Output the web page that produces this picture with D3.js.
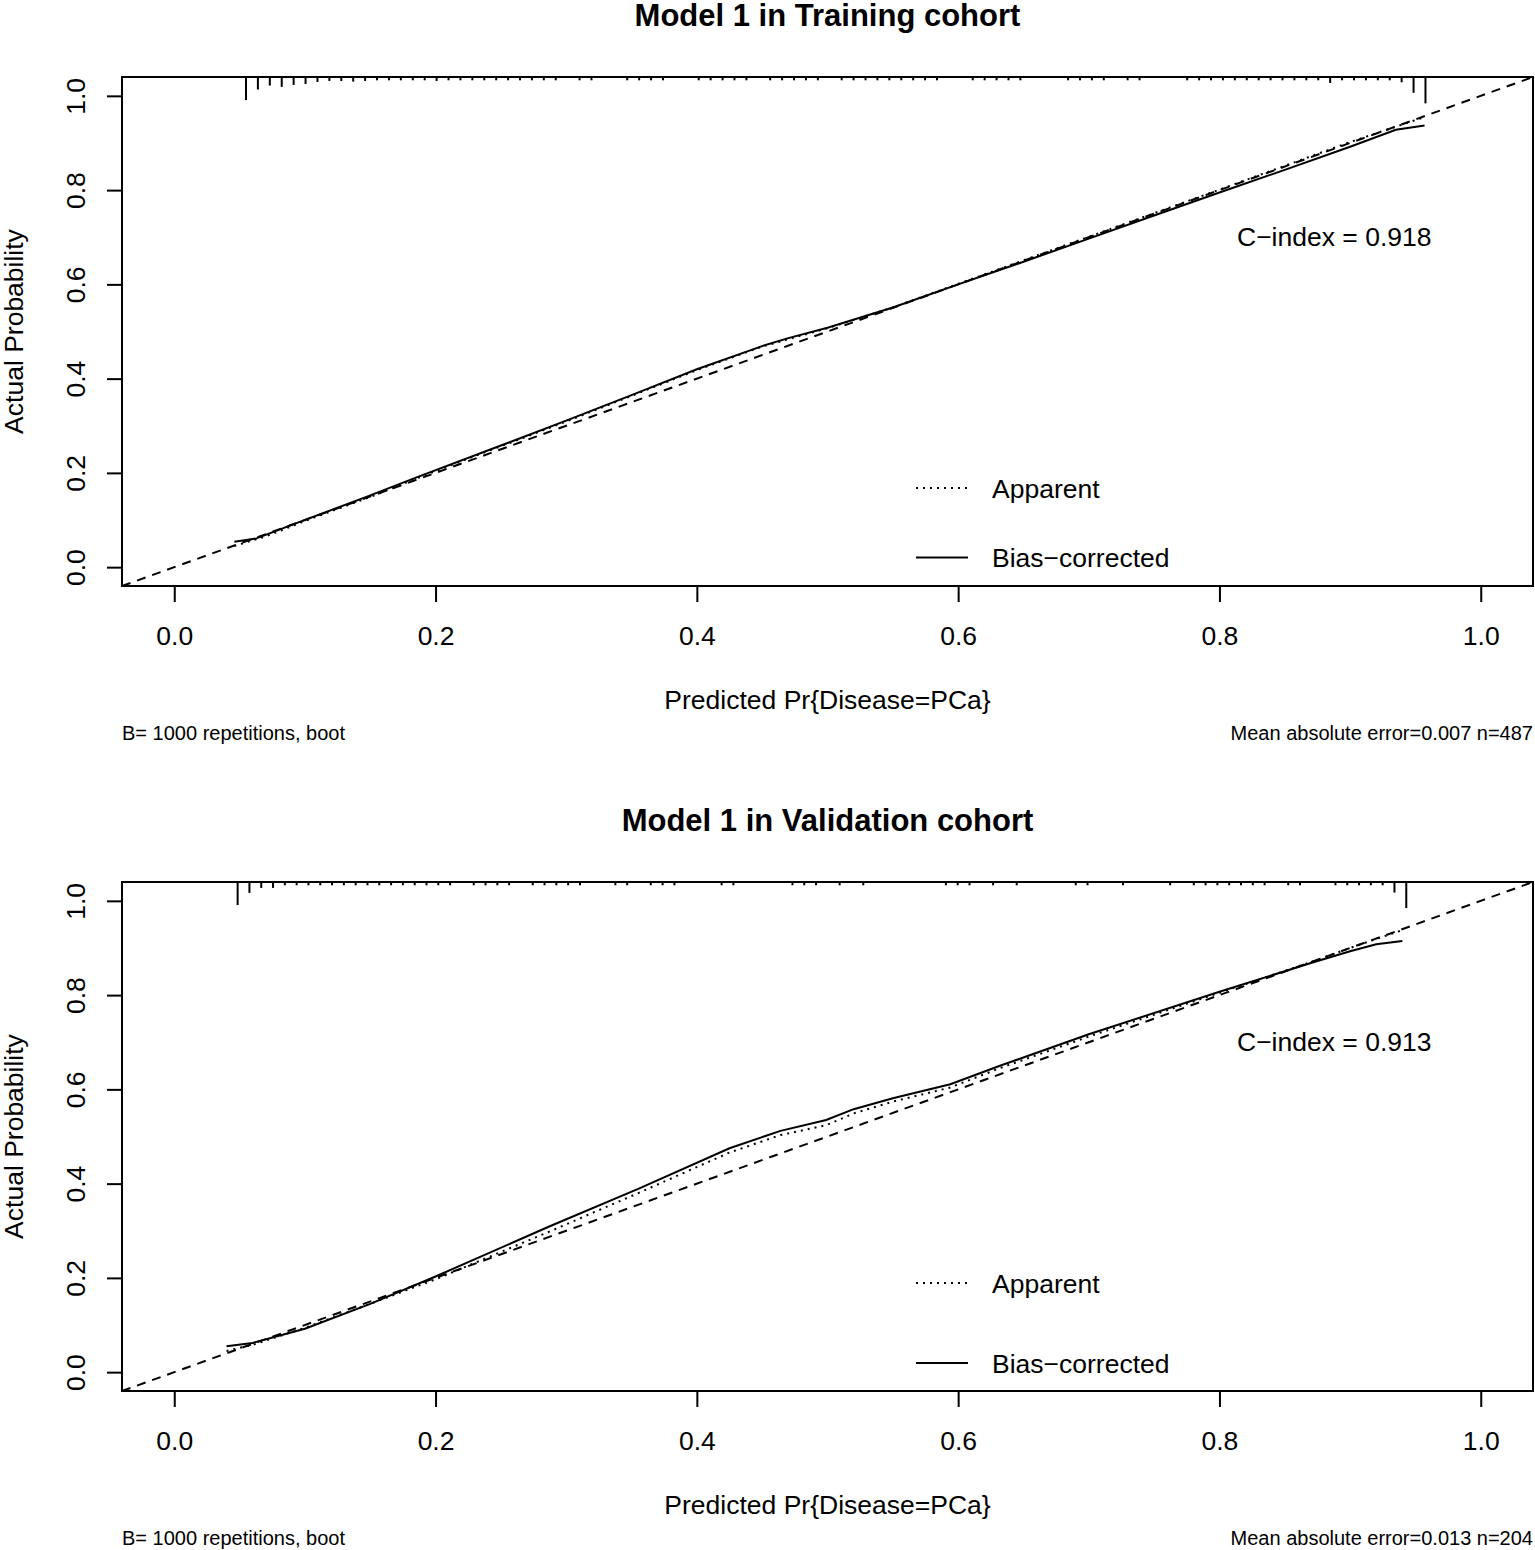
<!DOCTYPE html>
<html lang="en">
<head>
<meta charset="UTF-8"/>
<title>Calibration curves - Model 1</title>
<script src="https://d3js.org/d3.v7.min.js"></script>
<style>
  body { margin: 0; background: #fff; }
  text { font-family: "Liberation Sans", Arial, sans-serif; fill: #000; }
</style>
</head>
<body>
<script>
// ---- data ----
var axisTicks = [0, 0.2, 0.4, 0.6, 0.8, 1.0];
var tickLabels = ["0.0", "0.2", "0.4", "0.6", "0.8", "1.0"];

var panelTitles = ["Model 1 in Training cohort", "Model 1 in Validation cohort"];
var cIndexLabels = ["C\u2212index = 0.918", "C\u2212index = 0.913"];
var maeLabels = ["Mean absolute error=0.007 n=487", "Mean absolute error=0.013 n=204"];
var bootLabel = "B= 1000 repetitions, boot";
var xTitle = "Predicted Pr{Disease=PCa}";
var yTitle = "Actual Probability";
var legendLabels = ["Apparent", "Bias\u2212corrected"];

// training cohort
var trainBiasX = [0.046, 0.063, 0.096, 0.147, 0.185, 0.25, 0.3, 0.35, 0.4, 0.45, 0.47, 0.5, 0.55, 0.6, 0.65, 0.7, 0.75, 0.8, 0.85, 0.9, 0.935, 0.957];
var trainBiasY = [0.054, 0.061, 0.096, 0.149, 0.19, 0.258, 0.311, 0.365, 0.42, 0.469, 0.486, 0.508, 0.551, 0.6, 0.648, 0.697, 0.746, 0.795, 0.843, 0.892, 0.928, 0.937];
var trainAppX = [0.046, 0.07, 0.1, 0.15, 0.2, 0.3, 0.4, 0.45, 0.5, 0.55, 0.6, 0.7, 0.8, 0.9, 0.957];
var trainAppY = [0.045, 0.065, 0.098, 0.149, 0.204, 0.309, 0.418, 0.468, 0.507, 0.551, 0.601, 0.701, 0.801, 0.902, 0.955];
// spike frequencies of predicted risk, 100 bins from first to last
var trainRugRange = [0.0549, 0.9577];
var trainRugFreq = [7, 3.8, 2.6, 3, 2.4, 2.1, 1.5, 1.2, 1.2, 1.4,
                    1.2, 1, 1, 1, 1, 1, 1.2, 1, 1, 1,
                    1, 1, 1, 1, 1, 1, 1, 0, 1, 1,
                    0, 0, 1, 1, 1, 1, 0, 0, 1, 1,
                    1, 1, 1, 0, 1, 1, 1, 1, 1, 0,
                    1, 1, 1, 1, 1, 1, 1, 1, 1, 0,
                    0, 1, 1, 1, 1, 1, 0, 0, 0, 1,
                    1, 1, 1, 0, 1, 1, 0, 0, 0, 1,
                    1, 1, 1, 1, 1, 1, 1, 1, 1, 1,
                    1, 1.8, 1, 1, 1, 1, 1, 1.6, 4.8, 8];

// validation cohort
var validBiasX = [0.04, 0.06, 0.1, 0.15, 0.2, 0.287, 0.356, 0.425, 0.464, 0.499, 0.52, 0.55, 0.594, 0.632, 0.7, 0.8, 0.87, 0.9, 0.92, 0.94];
var validBiasY = [0.055, 0.062, 0.092, 0.145, 0.203, 0.309, 0.39, 0.475, 0.512, 0.535, 0.558, 0.581, 0.611, 0.65, 0.717, 0.807, 0.868, 0.893, 0.908, 0.915];
var validAppX = [0.04, 0.06, 0.1, 0.15, 0.2, 0.287, 0.356, 0.425, 0.464, 0.499, 0.52, 0.55, 0.594, 0.632, 0.7, 0.8, 0.87, 0.9, 0.94];
var validAppY = [0.045, 0.058, 0.094, 0.145, 0.197, 0.298, 0.381, 0.466, 0.503, 0.524, 0.549, 0.574, 0.604, 0.645, 0.712, 0.805, 0.87, 0.9, 0.938];
var validRugRange = [0.0485, 0.943];
var validRugFreq = [7, 3.3, 1.8, 1.8, 1, 1, 1, 1, 1, 1,
                    1, 1, 1, 1, 1, 1, 1, 1, 1, 0,
                    1, 1, 1, 1, 0, 1, 1, 1, 1, 1,
                    0, 0, 1, 1, 0, 1, 1, 1, 0, 0,
                    0, 1, 1, 0, 0, 0, 0, 1, 1, 1,
                    0, 1, 0, 1, 0, 0, 0, 0, 0, 0,
                    1, 1, 1, 0, 1, 0, 1, 0, 0, 0,
                    0, 1, 1, 0, 0, 1, 0, 0, 0, 1,
                    0, 1, 1, 1, 1, 1, 1, 1, 0, 1,
                    1, 0, 0, 1, 1, 1, 1, 1, 3.2, 7.9];

// ---- layout ----
var width = 1535, height = 1550;
var panelH = 805;
var plotL = 122, plotR = 1533, plotT = 77, plotB = 586;
var lim = [-0.04, 1.04];

var svg = d3.select("body").append("svg")
    .attr("width", width)
    .attr("height", height);

var x = d3.scaleLinear().domain(lim).range([plotL, plotR]);
var y = d3.scaleLinear().domain(lim).range([plotB, plotT]);
var rugLen = d3.scaleLinear().domain([0, 1]).range([0, 3.3]);

function zipXY(xs, ys) {
  return xs.map(function(d, i) { return [d, ys[i]]; });
}

var line = d3.line()
    .x(function(d) { return x(d[0]); })
    .y(function(d) { return y(d[1]); });

function drawPanel(i, biasX, biasY, appX, appY, rugRange, rugFreq, legY) {
  var g = svg.append("g").attr("transform", "translate(0," + (i * panelH) + ")");

  // title
  g.append("text")
      .attr("x", (plotL + plotR) / 2)
      .attr("y", 26)
      .attr("text-anchor", "middle")
      .style("font-size", "31px")
      .style("font-weight", "bold")
      .text(panelTitles[i]);

  // ideal line
  g.append("line")
      .attr("x1", x(lim[0])).attr("y1", y(lim[0]))
      .attr("x2", x(lim[1])).attr("y2", y(lim[1]))
      .attr("stroke", "#000")
      .attr("stroke-width", 2)
      .attr("stroke-dasharray", "9,7");

  // apparent (dotted) and bias-corrected (solid)
  g.append("path")
      .attr("d", line(zipXY(appX, appY)))
      .attr("fill", "none")
      .attr("stroke", "#000")
      .attr("stroke-width", 2)
      .attr("stroke-dasharray", "2,5");
  g.append("path")
      .attr("d", line(zipXY(biasX, biasY)))
      .attr("fill", "none")
      .attr("stroke", "#000")
      .attr("stroke-width", 2);

  // distribution spikes along the top
  var bin = d3.scaleLinear().domain([0, rugFreq.length - 1]).range(rugRange);
  g.selectAll(".rug")
      .data(rugFreq.map(function(f, k) { return { p: bin(k), f: f }; })
                   .filter(function(d) { return d.f > 0; }))
    .enter().append("line")
      .attr("class", "rug")
      .attr("x1", function(d) { return x(d.p); })
      .attr("x2", function(d) { return x(d.p); })
      .attr("y1", plotT)
      .attr("y2", function(d) { return plotT + rugLen(d.f); })
      .attr("stroke", "#000")
      .attr("stroke-width", 2);

  // box
  g.append("rect")
      .attr("x", plotL).attr("y", plotT)
      .attr("width", plotR - plotL).attr("height", plotB - plotT)
      .attr("fill", "none")
      .attr("stroke", "#000")
      .attr("stroke-width", 2);

  // axes
  var xAxis = g.append("g")
      .attr("transform", "translate(0," + plotB + ")")
      .call(d3.axisBottom(x).tickValues(axisTicks)
            .tickFormat(function(d, k) { return tickLabels[k]; })
            .tickSize(16).tickPadding(24));
  xAxis.select(".domain").remove();
  xAxis.selectAll(".tick line").attr("stroke-width", 2);
  xAxis.selectAll(".tick text")
      .style("font-size", "26.5px")
      .style("font-family", "'Liberation Sans', Arial, sans-serif");

  var yAxis = g.append("g")
      .attr("transform", "translate(" + plotL + ",0)")
      .call(d3.axisLeft(y).tickValues(axisTicks)
            .tickFormat(function(d, k) { return tickLabels[k]; })
            .tickSize(15));
  yAxis.select(".domain").remove();
  yAxis.selectAll(".tick line").attr("stroke-width", 2);
  yAxis.selectAll(".tick text")
      .attr("transform", "rotate(-90)")
      .attr("x", 0)
      .attr("y", -37)
      .attr("dy", null)
      .style("text-anchor", "middle")
      .style("font-size", "26.5px")
      .style("font-family", "'Liberation Sans', Arial, sans-serif");

  // axis titles
  g.append("text")
      .attr("x", (plotL + plotR) / 2)
      .attr("y", 709)
      .attr("text-anchor", "middle")
      .style("font-size", "26.5px")
      .text(xTitle);
  g.append("text")
      .attr("transform", "translate(23," + ((plotT + plotB) / 2) + ") rotate(-90)")
      .attr("text-anchor", "middle")
      .style("font-size", "26.5px")
      .text(yTitle);

  // footers
  g.append("text")
      .attr("x", plotL).attr("y", 740)
      .style("font-size", "20px")
      .text(bootLabel);
  g.append("text")
      .attr("x", plotR).attr("y", 740)
      .attr("text-anchor", "end")
      .style("font-size", "20px")
      .text(maeLabels[i]);

  // C-index
  g.append("text")
      .attr("x", 1237).attr("y", 245.5)
      .style("font-size", "26.5px")
      .text(cIndexLabels[i]);

  // legend
  var dashes = ["2,5", null];
  legY.forEach(function(ly, k) {
    g.append("line")
        .attr("x1", 916).attr("x2", 968)
        .attr("y1", ly).attr("y2", ly)
        .attr("stroke", "#000")
        .attr("stroke-width", 2)
        .attr("stroke-dasharray", dashes[k]);
    g.append("text")
        .attr("x", 992).attr("y", ly + 9.5)
        .style("font-size", "26.5px")
        .text(legendLabels[k]);
  });
}

drawPanel(0, trainBiasX, trainBiasY, trainAppX, trainAppY, trainRugRange, trainRugFreq, [488, 557.5]);
drawPanel(1, validBiasX, validBiasY, validAppX, validAppY, validRugRange, validRugFreq, [478, 558]);
</script>
</body>
</html>
